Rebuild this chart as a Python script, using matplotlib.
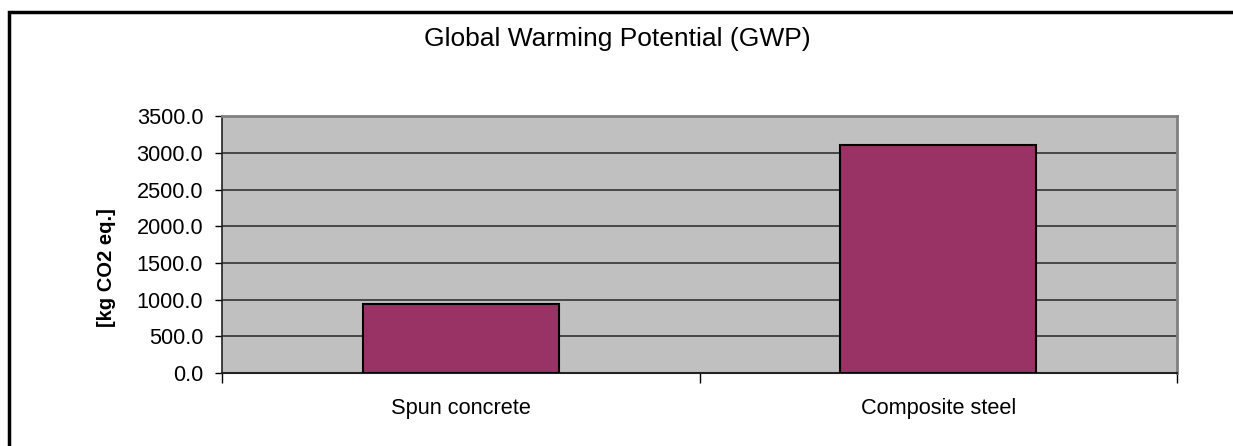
import matplotlib
matplotlib.use("Agg")
import matplotlib.pyplot as plt
from matplotlib.patches import Rectangle

# Data
categories = ["Spun concrete", "Composite steel"]
gwp_values = [935.0, 3105.0]
y_ticks = [0, 500, 1000, 1500, 2000, 2500, 3000, 3500]
title = "Global Warming Potential (GWP)"
y_label = "[kg CO2 eq.]"

plt.rcParams["font.family"] = ["Liberation Sans", "DejaVu Sans"]

W, H = 1233, 446
fig = plt.figure(figsize=(W / 100, H / 100), dpi=100)

# Outer chart frame (runs off the right and bottom edges)
fig.patches.append(Rectangle((9 / W, 0 - 0.05), 1.2, 1 - 11.5 / H + 0.05,
                             transform=fig.transFigure, fill=False,
                             edgecolor="black", linewidth=2.5, zorder=0))

left, right = 222 / W, 1177 / W
bottom, top = 1 - 373 / H, 1 - 116.5 / H
ax = fig.add_axes([left, bottom, right - left, top - bottom])
ax.set_facecolor("#C0C0C0")

x = list(range(len(categories)))
ax.bar(x, gwp_values, width=0.41, color="#993366", edgecolor="black",
       linewidth=1.5, zorder=3)

ax.set_xlim(-0.5, len(categories) - 0.5)
ax.set_ylim(0, 3500)
ax.set_yticks(y_ticks)
ax.set_yticklabels([f"{v:.1f}" for v in y_ticks], fontsize=15.7)
ax.yaxis.grid(True, color="#333333", linewidth=1.2, zorder=1)
ax.set_axisbelow(True)

# Category boundaries as major ticks, labels on minor ticks
ax.set_xticks([i - 0.5 for i in range(len(categories) + 1)])
ax.set_xticklabels([])
ax.set_xticks(x, minor=True)
ax.set_xticklabels(categories, minor=True, fontsize=15.7)
ax.tick_params(axis="x", which="major", length=7, width=1, color="black")
ax.tick_params(axis="x", which="minor", length=0, pad=18)
ax.tick_params(axis="y", length=5, width=1, pad=8.5)

for side in ("top", "right"):
    ax.spines[side].set_color("#808080")
    ax.spines[side].set_linewidth(2)
ax.spines["left"].set_color("#222222")
ax.spines["left"].set_linewidth(1.2)
ax.spines["bottom"].set_color("#222222")
ax.spines["bottom"].set_linewidth(1.5)

fig.text(617 / W, 1 - 39 / H, title, ha="center", va="center", fontsize=19)
fig.text(107 / W, 1 - 268 / H, y_label, ha="center", va="center",
         rotation=90, fontsize=14.5, fontweight="bold")

fig.savefig("out.png", dpi=100, facecolor="white")
